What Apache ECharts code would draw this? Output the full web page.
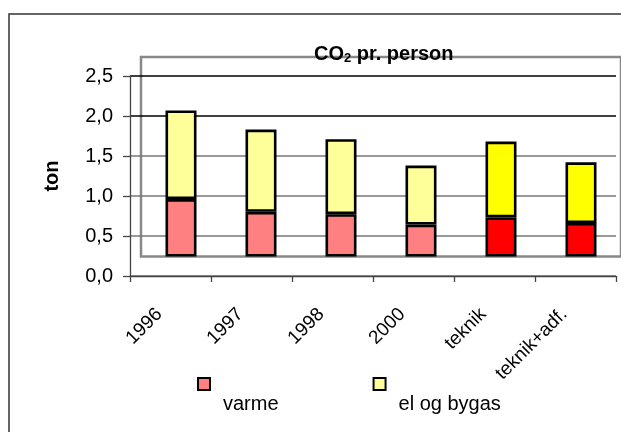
<!DOCTYPE html>
<html lang="da">
<head>
<meta charset="UTF-8" />
<title>CO2 pr. person</title>
<script src="https://cdn.jsdelivr.net/npm/echarts@6/dist/echarts.min.js"></script>
<style>
  html, body { margin: 0; padding: 0; background: #fff; }
  #chart { width: 621px; height: 432px; }
</style>
</head>
<body>
<div id="chart"></div>
<script>
// data (ton CO2 per person), read from the back-wall floor of the 3D chart
const categories = ['1996', '1997', '1998', '2000', 'teknik', 'teknik+adf.']
const varme = [0.72, 0.56, 0.53, 0.40, 0.49, 0.42]
const elOgBygas = [1.11, 1.03, 0.94, 0.74, 0.95, 0.76]
const yMin = 0
const yMax = 2.5
const yStep = 0.5

// the last two columns are drawn in stronger colours
const strongFrom = 4
const font = 'Liberation Sans, Arial, sans-serif'

const chart = echarts.init(document.getElementById('chart'), null, { renderer: 'canvas' })

function colored(values, strong) {
  return values.map(function (v, i) {
    return i >= strongFrom ? { value: v, itemStyle: { color: strong } } : v
  })
}

const option = {
  animation: false,
  textStyle: { fontFamily: font, color: '#000' },
  title: {
    text: '{a|CO}{s|2}{a| pr. person}',
    left: 309,
    top: 38,
    textStyle: {
      rich: {
        a: { fontFamily: font, fontSize: 20, fontWeight: 'bold', color: '#000' },
        s: { fontFamily: font, fontSize: 13, fontWeight: 'bold', color: '#000', padding: [9, 0, 0, 0] }
      }
    }
  },
  legend: {
    data: ['varme', 'el og bygas'],
    left: 197,
    top: 354,
    padding: 0,
    icon: 'rect',
    itemWidth: 12,
    itemHeight: 12,
    itemGap: 94,
    itemStyle: { borderColor: '#000', borderWidth: 2 },
    // Excel puts the legend text under and right of its key
    formatter: function (name) { return '\n\n{t|' + name + '}' },
    textStyle: {
      fontFamily: font, fontSize: 20, lineHeight: 20, color: '#000',
      rich: { t: { fontFamily: font, fontSize: 20, lineHeight: 20, color: '#000', padding: [0, 0, 0, 8] } }
    }
  },
  grid: [
    // front frame with the value axis
    { left: 130, top: 76, width: 486, height: 200 },
    // back wall of the 3D plot, bars stand on its floor
    { left: 141, top: 57, width: 486, height: 199.5, show: true, borderColor: '#888', borderWidth: 2.5, backgroundColor: 'transparent' }
  ],
  xAxis: [
    {
      type: 'category',
      gridIndex: 0,
      data: categories,
      axisLine: { show: true, lineStyle: { color: '#444', width: 1.3 } },
      axisTick: { show: true, length: 6, lineStyle: { color: '#444', width: 1.3 } },
      axisLabel: {
        rotate: 45,
        margin: 24,
        formatter: function (v) { return '{l|' + v + '}' },
        rich: { l: { fontFamily: font, fontSize: 19, color: '#000', padding: [0, 16, 0, 0] } }
      },
      splitLine: { show: false }
    },
    {
      type: 'category',
      gridIndex: 1,
      data: categories,
      show: false
    }
  ],
  yAxis: [
    {
      type: 'value',
      gridIndex: 0,
      min: yMin,
      max: yMax,
      interval: yStep,
      name: 'ton',
      nameLocation: 'middle',
      nameRotate: 90,
      nameGap: 68,
      nameTextStyle: { fontFamily: font, fontSize: 20, fontWeight: 'bold', color: '#000' },
      axisLine: { show: true, lineStyle: { color: '#444', width: 1.3 } },
      axisTick: { show: true, length: 7, lineStyle: { color: '#444', width: 1.3 } },
      axisLabel: {
        margin: 17,
        fontSize: 20,
        color: '#000',
        fontFamily: font,
        formatter: function (v) { return v.toFixed(1).replace('.', ',') }
      },
      splitLine: {
        show: true,
        lineStyle: { color: ['#777', '#777', '#777', '#777', '#000', '#000'], width: 1.5 }
      }
    },
    {
      type: 'value',
      gridIndex: 1,
      min: yMin,
      max: yMax,
      show: false,
      splitLine: { show: false }
    }
  ],
  series: [
    {
      name: 'varme',
      type: 'bar',
      stack: 'co2',
      xAxisIndex: 1,
      yAxisIndex: 1,
      barWidth: 31,
      color: '#FF8080',
      itemStyle: { color: '#FF8080', borderColor: '#000', borderWidth: 2.6 },
      data: colored(varme, '#FF0000')
    },
    {
      name: 'el og bygas',
      type: 'bar',
      stack: 'co2',
      xAxisIndex: 1,
      yAxisIndex: 1,
      barWidth: 31,
      color: '#FFFF99',
      itemStyle: { color: '#FFFF99', borderColor: '#000', borderWidth: 2.6 },
      data: colored(elOgBygas, '#FFFF00')
    }
  ],
  graphic: [
    {
      type: 'rect',
      shape: { x: 9, y: 14, width: 700, height: 500 },
      style: { fill: 'none', stroke: '#333', lineWidth: 1.5 },
      silent: true
    }
  ]
}

chart.setOption(option)
</script>
</body>
</html>
